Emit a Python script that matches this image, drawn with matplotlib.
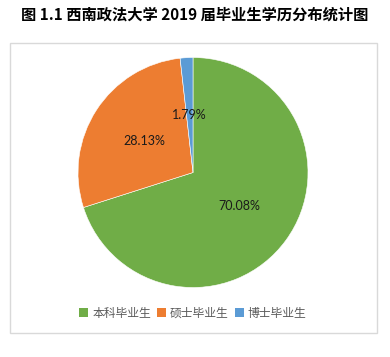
import matplotlib
matplotlib.use("Agg")
from matplotlib import pyplot as plt
from matplotlib.patches import Rectangle, Patch

plt.rcParams['font.family'] = ['Noto Sans CJK SC', 'DejaVu Sans']

title = "图 1.1 西南政法大学 2019 届毕业生学历分布统计图"
categories = ["本科毕业生", "硕士毕业生", "博士毕业生"]
shares = [70.08, 28.13, 1.79]
colors = ["#70AD47", "#ED7D31", "#5B9BD5"]

W, H = 390, 357
fig = plt.figure(figsize=(W / 100, H / 100), dpi=100, facecolor='w')

# chart area frame
fig.patches.append(Rectangle((9.5 / W, 1 - 333 / H), 367 / W, 290.5 / H,
                             transform=fig.transFigure, fill=False,
                             edgecolor='#D9D9D9', linewidth=1.0))

fig.text(195 / W, 1 - 15 / H, title, ha='center', va='center',
         fontsize=11, fontweight='bold', color='black')

# pie centre (193, 172.5), radius 115 px
ax = fig.add_axes([(193 - 115) / W, (H - 287.5) / H, 230 / W, 230 / H])
wedges, texts, autotexts = ax.pie(
    shares, colors=colors, startangle=90, counterclock=False,
    autopct=lambda p: '', pctdistance=0.5,
    wedgeprops=dict(edgecolor='white', linewidth=0.4))
for t, v in zip(autotexts, shares):
    t.set_text('%.2f%%' % v)
    t.set_fontfamily('Lato')
    t.set_fontsize(9)
    t.set_color('#1a1a1a')
ax.set_xlim(-1.0, 1.0)
ax.set_ylim(-1.0, 1.0)
ax.set_aspect('equal')
ax.axis('off')

handles = [Patch(facecolor=c, edgecolor='none') for c in colors]
leg = fig.legend(handles, categories, loc='center', ncol=3,
                 bbox_to_anchor=(193 / W, 1 - 313 / H), frameon=False,
                 fontsize=8.5, handlelength=0.75, handleheight=0.75,
                 handletextpad=0.35, columnspacing=0.5)
for t in leg.get_texts():
    t.set_color('#595959')

fig.savefig('out.png', dpi=100, facecolor='w')
